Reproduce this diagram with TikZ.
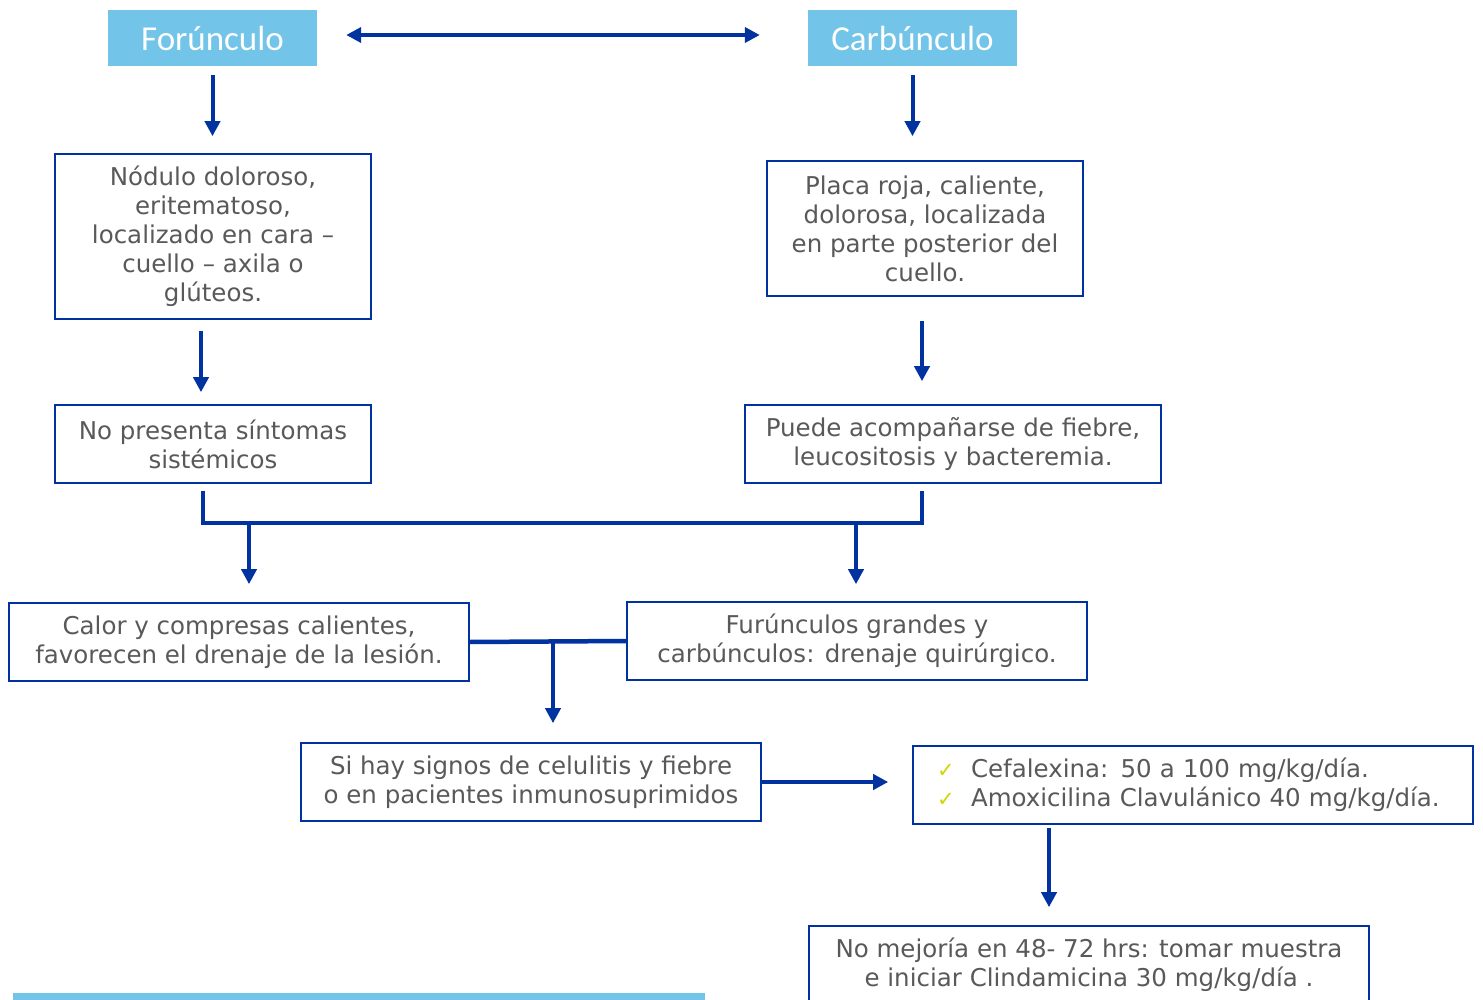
\documentclass[tikz,border=0pt]{standalone}
\usepackage{fontspec}
\setmainfont{DejaVu Sans}
\newfontfamily\headfont{Carlito}
\newfontfamily\symfont{DejaVu Sans}
\usetikzlibrary{arrows.meta,calc}
\definecolor{hdr}{RGB}{114,196,232}
\definecolor{dblue}{RGB}{0,51,160}
\definecolor{tgray}{RGB}{89,89,89}
\definecolor{chk}{RGB}{205,215,0}
\tikzset{
  hbox/.style={fill=hdr,text=white,font=\headfont\fontsize{35}{38}\selectfont,inner sep=0pt},
  tbox/.style={draw=dblue,line width=1.6pt,text=tgray,font=\fontsize{24.5}{29}\selectfont,align=center,inner sep=0pt},
  arr/.style={draw=dblue,line width=4pt,-{Triangle[length=15pt,width=15pt]}},
  darr/.style={draw=dblue,line width=4pt,{Triangle[length=15pt,width=15pt]}-{Triangle[length=15pt,width=15pt]}},
  bline/.style={draw=dblue,line width=4.5pt}
}
\begin{document}
\begin{tikzpicture}[x=1pt,y=-1pt]
\useasboundingbox (0,0) rectangle (1483,1000);
\clip (0,0) rectangle (1483,1000);
\fill[white] (0,0) rectangle (1483,1000);
% headers
\node[hbox,minimum width=209pt,minimum height=56pt] (forun) at (212.5,38) {Forúnculo};
\node[hbox,minimum width=209pt,minimum height=56pt] (carb) at (912.5,38) {Carbúnculo};
% boxes
\node[tbox,minimum width=316pt,minimum height=165pt] (b1) at (213,236.5)
  {Nódulo doloroso,\\eritematoso,\\localizado en cara –\\cuello – axila o\\glúteos.};
\node[tbox,minimum width=316pt,minimum height=135pt] (b2) at (925,228.5)
  {Placa roja, caliente,\\dolorosa, localizada\\en parte posterior del\\cuello.};
\node[tbox,minimum width=316pt,minimum height=78pt] (nop) at (213,444)
  {No presenta síntomas\\sistémicos};
\node[tbox,minimum width=416pt,minimum height=78pt] (pue) at (953,444)
  {Puede acompañarse de fiebre,\\leucositosis y bacteremia.};
\node[tbox,minimum width=460pt,minimum height=78pt] (cal) at (239,642)
  {Calor y compresas calientes,\\favorecen el drenaje de la lesión.};
\node[tbox,minimum width=460pt,minimum height=78pt] (fur) at (857,641)
  {Furúnculos grandes y\\carbúnculos: drenaje quirúrgico.};
\node[tbox,minimum width=460pt,minimum height=78pt] (si) at (531,782)
  {Si hay signos de celulitis y fiebre\\o en pacientes inmunosuprimidos};
\node[tbox,minimum width=560pt,minimum height=78pt,align=left,text width=512pt] (med) at (1193,785)
  {\makebox[34pt][l]{\textcolor{chk}{\symfont\fontsize{21}{21}\selectfont ✓}}Cefalexina: 50 a 100 mg/kg/día.\\
   \makebox[34pt][l]{\textcolor{chk}{\symfont\fontsize{21}{21}\selectfont ✓}}Amoxicilina Clavulánico 40 mg/kg/día.};
\node[tbox,minimum width=560pt,minimum height=78pt] (nom) at (1089,965)
  {No mejoría en 48- 72 hrs: tomar muestra\\e iniciar Clindamicina 30 mg/kg/día .};
% bottom bar
\fill[hdr] (13,993) rectangle (705,1000);
% connectors
\draw[darr,shorten <=29pt,shorten >=48pt] (forun.east |- 0,35) -- (carb.west |- 0,35);
\draw[arr,shorten <=9pt,shorten >=17pt] (forun.south) -- (forun.south |- b1.north);
\draw[arr,shorten <=9pt,shorten >=24pt] (carb.south) -- (carb.south |- b2.north);
\draw[arr,shorten <=11pt,shorten >=12pt] ([xshift=-12pt]b1.south) -- ([xshift=-12pt]b1.south |- nop.north);
\draw[arr,shorten <=24pt,shorten >=23pt] ([xshift=-3pt]b2.south) -- ([xshift=-3pt]b2.south |- pue.north);
\coordinate (bl) at ([xshift=-10pt]nop.south);
\coordinate (br) at ([xshift=-31pt]pue.south);
\draw[bline,line join=miter] ([yshift=-7pt]bl) -- ([yshift=-39pt]bl) -- ([yshift=-39pt]br) -- ([yshift=-7pt]br);
\draw[arr,shorten >=18pt] (cal.north |- 0,522) ++(10,0) coordinate (ca) -- (ca |- cal.north);
\draw[arr,shorten >=17pt] (fur.north |- 0,522) ++(-1,0) coordinate (fa) -- (fa |- fur.north);
\draw[bline] (cal.east) -- (fur.west);
\coordinate (mid) at (553,641.5);
\draw[arr,shorten >=19pt] (mid) -- (mid |- si.north);
\draw[arr,shorten >=24pt] (si.east) -- (si.east -| med.west);
\coordinate (mt) at (1049,0);
\draw[arr,shorten <=3pt,shorten >=18pt] (mt |- med.south) -- (mt |- nom.north);
\end{tikzpicture}
\end{document}
